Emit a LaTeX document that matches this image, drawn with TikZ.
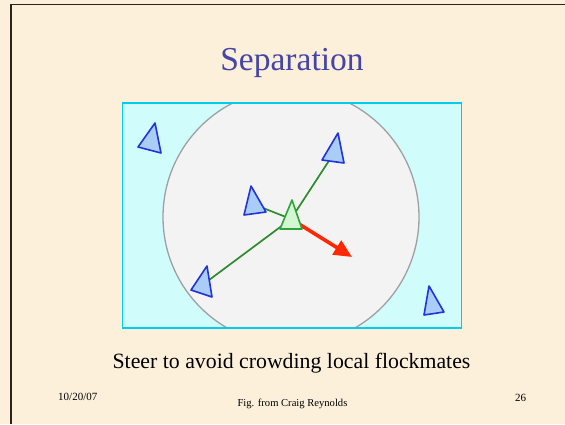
\documentclass[tikz,border=0pt]{standalone}
\usepackage{fontspec}
\setmainfont{Liberation Serif}
\usetikzlibrary{arrows.meta}
\definecolor{slidebg}{RGB}{252,240,219}
\definecolor{slideline}{RGB}{40,36,30}
\definecolor{titleblue}{RGB}{68,68,170}
\definecolor{fieldcyan}{RGB}{0,204,238}
\definecolor{fieldfill}{RGB}{208,252,252}
\definecolor{rangefill}{RGB}{243,243,243}
\definecolor{rangegray}{RGB}{160,160,160}
\definecolor{boidblue}{RGB}{34,51,221}
\definecolor{boidfill}{RGB}{169,205,247}
\definecolor{selfgreen}{RGB}{46,163,58}
\definecolor{selffill}{RGB}{210,247,210}
\definecolor{linkgreen}{RGB}{46,140,46}
\definecolor{steerred}{RGB}{255,40,0}

\begin{document}
\begin{tikzpicture}[x=1pt, y=-1pt,
  boid/.style={draw=boidblue, fill=boidfill, line width=1.6pt, line join=round},
  selfboid/.style={draw=selfgreen, fill=selffill, line width=1.6pt, line join=round},
  link/.style={draw=linkgreen, line width=1.7pt},
  steer/.style={-{Triangle[length=18pt, width=16pt]}, draw=steerred, fill=steerred, line width=3.6pt},
  footer/.style={font=\fontsize{11}{13}\selectfont, anchor=base},
]
  % Slide background
  \fill[slidebg] (0,0) rectangle (565,424);
  \useasboundingbox (0,0) rectangle (565,424);
  \draw[slideline, line width=1.5pt] (565,4.5) -- (11,4.5) -- (11,424);

  % Title and caption
  \node[anchor=base, text=titleblue, font=\fontsize{33.5}{40}\selectfont] (title) at (292,70) {Separation};
  \node[anchor=base, font=\fontsize{21.8}{26}\selectfont] (caption) at (291.5,368) {Steer to avoid crowding local flockmates};

  % Field and neighbourhood
  \begin{scope}
    \clip (122.5,103) rectangle (461.5,328);
    \fill[fieldfill] (122.5,103) rectangle (461.5,328);
    \draw[rangegray, fill=rangefill, line width=1.3pt] (291,217) circle[radius=128];
  \end{scope}
  \draw[fieldcyan, line width=1.5pt] (122.5,103) rectangle (461.5,328);

  % Boid centres
  \coordinate (self)  at (291,219);
  \coordinate (nbTR)  at (334.7,152);
  \coordinate (nbML)  at (253.7,204.3);
  \coordinate (nbBL)  at (203.3,284.3);

  % Links to neighbours
  \draw[link] (self) -- (nbTR);
  \draw[link] (self) -- (nbML);
  \draw[link] (self) -- (nbBL);

  % Steering
  \coordinate (aim) at (352,257);
  \draw[steer] (self) -- (aim);

  % Boids
  \draw[boid] (155,123) -- (138,147) -- (161,153) -- cycle;
  \draw[boid] (338,133) -- (322,160) -- (344,163) -- cycle;
  \draw[boid] (251,186) -- (244,215) -- (266,212) -- cycle;
  \draw[boid] (207,266) -- (191,290) -- (212,297) -- cycle;
  \draw[boid] (429,286) -- (424,315) -- (444,312) -- cycle;
  \draw[selfboid] (292,200) -- (280,229) -- (302,229) -- cycle;

  % Footer
  \node[footer, anchor=base west] (date) at (54.7,400.5) {10/20/07};
  \node[footer, font=\fontsize{10.6}{13}\selectfont] (credit) at (292.5,406) {Fig. from Craig Reynolds};
  \node[footer, anchor=base west] (page) at (511.5,401) {26};
\end{tikzpicture}
\end{document}
